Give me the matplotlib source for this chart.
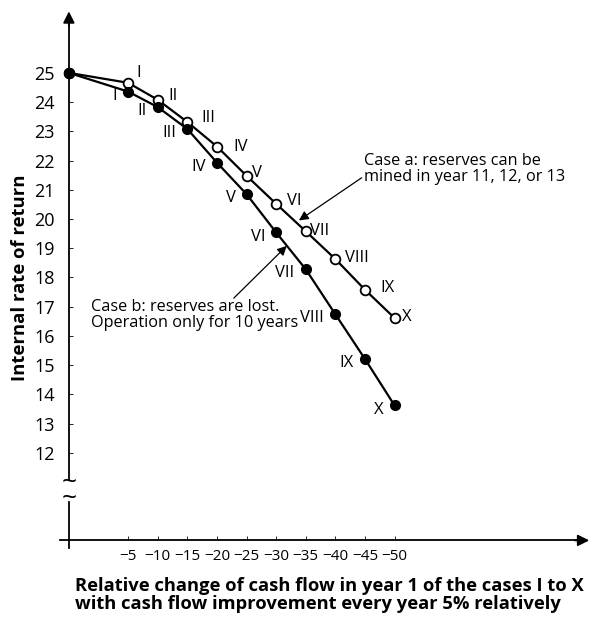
import matplotlib
matplotlib.use('Agg')
import matplotlib.pyplot as plt

plt.rcParams['font.family'] = ['Open Sans', 'DejaVu Sans']

# data
cash_change = [0, -5, -10, -15, -20, -25, -30, -35, -40, -45, -50]
case_labels = ['', 'I', 'II', 'III', 'IV', 'V', 'VI', 'VII', 'VIII', 'IX', 'X']
irr_case_a = [25.0, 24.66, 24.08, 23.32, 22.48, 21.48, 20.52, 19.58, 18.63, 17.58, 16.61]
irr_case_b = [25.0, 24.36, 23.83, 23.08, 21.93, 20.85, 19.54, 18.28, 16.74, 15.21, 13.62]
x_ticks = [-5, -10, -15, -20, -25, -30, -35, -40, -45, -50]
y_ticks = list(range(12, 26))


def xpos(v):
    # the axis is broken between 0 and -5: base case sits on the y-axis
    return 0.0 if v == 0 else 1.0 - v / 5.0


xs = [xpos(v) for v in cash_change]

fig = plt.figure(figsize=(5.93, 6.17), dpi=100)
ax = fig.add_axes([60 / 593, 1 - 548 / 617, 532 / 593, 540 / 617])
ax.set_xlim(-0.3, 17.67)
ax.set_ylim(8.74, 27.22)

# axes drawn by hand (arrows, break)
ax.spines['top'].set_visible(False)
ax.spines['right'].set_visible(False)
ax.spines['left'].set_position(('data', 0))
ax.spines['bottom'].set_position(('data', 9.0))
ax.spines['left'].set_bounds(11.1, 26.8)
ax.spines['bottom'].set_bounds(-0.3, 17.2)
ax.spines['left'].set_linewidth(1.3)
ax.spines['bottom'].set_linewidth(1.3)
ax.plot([0, 0], [8.74, 10.3], color='black', lw=1.3, clip_on=False)
ax.annotate('', xy=(0, 27.2), xytext=(0, 26.5),
            arrowprops=dict(arrowstyle='-|>', color='black', lw=1.3, mutation_scale=17))
ax.annotate('', xy=(17.67, 9.0), xytext=(17.0, 9.0),
            arrowprops=dict(arrowstyle='-|>', color='black', lw=1.3, mutation_scale=17),
            annotation_clip=False)
ax.text(0, 10.7, '~\n~', ha='center', va='center', fontsize=19, linespacing=0.5)

ax.set_yticks(y_ticks)
ax.set_yticklabels([str(t) for t in y_ticks], fontsize=13)
ax.set_xticks([xpos(v) for v in x_ticks])
ax.set_xticklabels(['\u2212' + str(-v) for v in x_ticks], fontsize=11)
ax.tick_params(axis='y', direction='in', length=3, width=0.6, pad=10)
ax.tick_params(axis='x', direction='in', length=3, width=0.6, pad=6)

# the two series
ax.plot(xs, irr_case_a, color='black', lw=1.6, marker='o', markersize=7,
        markerfacecolor='white', markeredgecolor='black', markeredgewidth=1.3, zorder=3)
ax.plot(xs, irr_case_b, color='black', lw=1.6, marker='o', markersize=7,
        markerfacecolor='black', markeredgecolor='black', zorder=3)
ax.plot(xs[0], irr_case_b[0], 'o', color='black', markersize=7, zorder=4)

# roman numeral labels
offsets_a = [(6, 7), (8, 3), (10, 3), (12, 0), (4, 2), (8, 2), (3, 0), (7, 1), (11, 1), (5, 1)]
for i in range(1, len(xs)):
    dx, dy = offsets_a[i - 1]
    ax.annotate(case_labels[i], (xs[i], irr_case_a[i]), xytext=(dx, dy),
                textcoords='offset points', ha='left', va='center', fontsize=12)
    ax.annotate(case_labels[i], (xs[i], irr_case_b[i]), xytext=(-8, -3),
                textcoords='offset points', ha='right', va='center', fontsize=12)

# case annotations
ax.text(9.97, 21.7, 'Case a: reserves can be\nmined in year 11, 12, or 13',
        ha='left', va='center', fontsize=11.7, linespacing=1.0)
ax.annotate('', xy=(7.77, 19.95), xytext=(9.89, 21.41),
            arrowprops=dict(arrowstyle='-|>', color='black', lw=0.9,
                            mutation_scale=14, shrinkA=0, shrinkB=0))
ax.annotate('', xy=(7.36, 19.08), xytext=(5.57, 17.29),
            arrowprops=dict(arrowstyle='-|>', color='black', lw=0.9,
                            mutation_scale=14, shrinkA=0, shrinkB=0))
ax.text(0.74, 16.7, 'Case b: reserves are lost.\nOperation only for 10 years',
        ha='left', va='center', fontsize=11.7, linespacing=1.0)

ax.set_ylabel('Internal rate of return', fontsize=13.3, fontweight='bold')
ax.yaxis.set_label_coords(-0.058, (25 - (278 - 73) / 29.23 - 8.74) / (27.22 - 8.74))

fig.text(75 / 593, 1 - 595 / 617,
         'Relative change of cash flow in year 1 of the cases I to X\n'
         'with cash flow improvement every year 5% relatively',
         ha='left', va='center', fontsize=13.2, fontweight='bold', linespacing=1.0)

fig.savefig('out.png', dpi=100)
